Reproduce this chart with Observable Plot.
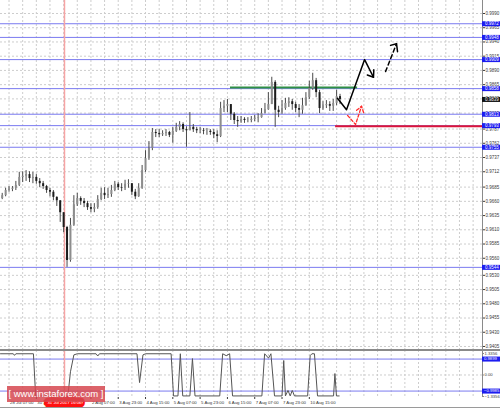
<!DOCTYPE html>
<html><head><meta charset="utf-8">
<script src="https://cdn.jsdelivr.net/npm/d3@7"></script>
<script src="https://cdn.jsdelivr.net/npm/@observablehq/plot@0.6"></script>
<style>
body{margin:0;background:#fff;}
#wrap{position:relative;width:500px;height:408px;overflow:hidden;background:#fff;font-family:"Liberation Sans",Arial,sans-serif;}
#main{position:absolute;left:0;top:0;}
#ind{position:absolute;left:0;top:350px;}
#sep{position:absolute;left:0;top:348.5px;width:500px;height:2px;background:#8a8a8a;}
#bot{position:absolute;left:0;top:406.5px;width:500px;height:1px;background:#9a9a9a;}
#wm{position:absolute;left:7px;top:386px;width:98px;height:16px;background:rgba(214,72,80,0.85);color:#fff;font-size:9.5px;line-height:16px;text-align:center;white-space:nowrap;}
</style></head><body>
<div id="wrap"><div id="main"></div><div id="ind"></div><div id="sep"></div><div id="bot"></div><div id="wm">[ www.instaforex.com ]</div></div>
<script>
// ---- candle data (hourly chart, one candle per 2 hours) ----
const firstOpen = 0.9665;
const closes = [0.9670,0.9679,0.9681,0.9683,0.9688,0.9702,0.9704,0.9707,0.9700,0.9702,
0.9695,0.9691,0.9686,0.9679,0.9676,0.9667,0.9661,0.9640,0.9614,0.9556,
0.9618,0.9654,0.9665,0.9660,0.9656,0.9649,0.9646,0.9649,0.9663,0.9674,
0.9670,0.9672,0.9679,0.9690,0.9684,0.9683,0.9690,0.9691,0.9676,0.9668,
0.9683,0.9714,0.9735,0.9753,0.9781,0.9779,0.9777,0.9779,0.9781,0.9776,
0.9783,0.9790,0.9795,0.9786,0.9784,0.9790,0.9786,0.9784,0.9784,0.9783,
0.9783,0.9781,0.9777,0.9774,0.9823,0.9827,0.9830,0.9813,0.9802,0.9800,
0.9804,0.9802,0.9802,0.9804,0.9806,0.9807,0.9814,0.9821,0.9830,0.9869,
0.9820,0.9816,0.9823,0.9832,0.9835,0.9830,0.9823,0.9820,0.9828,0.9842,
0.9858,0.9872,0.9851,0.9823,0.9828,0.9830,0.9827,0.9832,0.9844,0.9839];
const highs = [0.9674,0.9683,0.9686,0.9686,0.9695,0.9711,0.9712,0.9714,0.9712,0.9711,
0.9707,0.9700,0.9695,0.9688,0.9683,0.9679,0.9668,0.9661,0.9640,0.9616,
0.9630,0.9670,0.9674,0.9668,0.9665,0.9660,0.9656,0.9656,0.9670,0.9683,
0.9684,0.9683,0.9688,0.9695,0.9693,0.9691,0.9697,0.9698,0.9691,0.9681,
0.9691,0.9723,0.9749,0.9765,0.9788,0.9786,0.9786,0.9784,0.9786,0.9783,
0.9790,0.9797,0.9800,0.9798,0.9791,0.9816,0.9795,0.9790,0.9790,0.9788,
0.9788,0.9786,0.9786,0.9784,0.9834,0.9837,0.9839,0.9830,0.9816,0.9809,
0.9809,0.9807,0.9807,0.9809,0.9811,0.9814,0.9823,0.9832,0.9851,0.9878,
0.9872,0.9827,0.9837,0.9841,0.9842,0.9839,0.9834,0.9830,0.9841,0.9851,
0.9871,0.9885,0.9876,0.9855,0.9835,0.9837,0.9835,0.9839,0.9855,0.9848];
const lows = [0.9663,0.9668,0.9676,0.9677,0.9679,0.9686,0.9693,0.9695,0.9693,0.9691,
0.9690,0.9684,0.9681,0.9674,0.9668,0.9661,0.9651,0.9623,0.9605,0.9544,
0.9553,0.9616,0.9651,0.9653,0.9649,0.9644,0.9640,0.9640,0.9646,0.9661,
0.9663,0.9665,0.9667,0.9677,0.9679,0.9677,0.9679,0.9683,0.9670,0.9663,
0.9667,0.9681,0.9711,0.9732,0.9749,0.9772,0.9772,0.9774,0.9774,0.9772,
0.9762,0.9781,0.9784,0.9781,0.9755,0.9784,0.9781,0.9779,0.9779,0.9777,
0.9776,0.9776,0.9770,0.9763,0.9772,0.9816,0.9816,0.9802,0.9795,0.9790,
0.9797,0.9797,0.9798,0.9798,0.9800,0.9798,0.9806,0.9814,0.9820,0.9830,
0.9790,0.9807,0.9813,0.9820,0.9825,0.9820,0.9816,0.9807,0.9813,0.9827,
0.9839,0.9855,0.9842,0.9814,0.9820,0.9823,0.9818,0.9818,0.9828,0.9830];

// ---- indicator (lower panel) ----
const indHours  = [0,7.5,8.2,9,19.3,20.6,39.5,41,43,45,56,57,58,80,81.5,83.5,85,100,101.4,104,105.4,106.8,111,112.5,114,128.5,130.2,132.3,134.3,136,153.2,154.8,157.1,158.5,160.6,165,166,167,168.5,169.8,171,172.3,180,181.5,182.5,184,185.8,195.2,196,196.9,198.5];
const indValues = [1.32,1.32,1.22,1.32,1.32,-1.30,-1.30,0.2,1.25,1.32,1.32,1.18,1.32,1.32,-0.47,1.25,1.32,1.32,-1.30,-1.30,1.32,-1.30,-1.30,1.02,-1.30,-1.30,1.32,1.2,1.32,-1.30,-1.30,1.32,1.05,1.32,-1.30,-1.30,0.9,-1.30,-0.96,-1.30,-0.96,-1.30,-1.30,1.2,1.32,1.32,-1.30,-1.30,0.09,-1.30,-1.30];

// ---- axes / labels ----
const priceTicks = [0.9990,0.9965,0.9940,0.9915,0.9890,0.9865,0.9840,0.9815,0.9787,0.9762,0.9737,0.9712,0.9685,0.9660,0.9635,0.9610,0.9585,0.9560,0.9530,0.9505,0.9480,0.9455,0.9430,0.9405];
const levelValues = [0.9972,0.9948,0.9909,0.9858,0.9813,0.9793,0.9755,0.9544];
const currentPrice = 0.9839;
const indTicks = [1.3356, 0, -1.3356];
const indLevels = [0.9899, -0.9985];
const timeTickHours = [5,21,37,53,69,85,101,117,133,149,165,181];
const timeLabels = ["28 Jul 07:00","30 Jul 23:00","","2 Aug 07:00","3 Aug 23:00","4 Aug 15:00","5 Aug 07:00","5 Aug 23:00","6 Aug 15:00","7 Aug 07:00","7 Aug 23:00","10 Aug 15:00"];
const gridHours = [5,13,21,29,37,45,53,61,69,77,85,93,101,109,117,125,133,141,149,157,165,173,181,189,197,205,213,221,229,237,245,253,261,269,277];
const crossHour = 37.5;
const crossLabel = "31 Jul 2017 16:00";

// ---- drawn analysis lines ----
const greenLine = {from: 134.8, to: 209.3, value: 0.9860};
const redLine = {from: 196.4, value: 0.9792};
const solidHours = [197.5,202.8,213.4,218.6];
const solidValues = [0.9841,0.9821,0.9909,0.9878];
const solidHeadHours = [218.8,218.6,215.0];
const solidHeadValues = [0.9891,0.9878,0.9882];
const dashHours = [225.7,232.1];
const dashValues = [0.9888,0.9937];
const dashHeadHours = [228.6,232.1,232.7];
const dashHeadValues = [0.9934,0.9937,0.9923];
const redHours = [203.4,208.1,211.6];
const redValues = [0.9811,0.9795,0.9827];
const redHeadHours = [208.7,211.6,212.8];
const redHeadValues = [0.9820,0.9827,0.9816];

// ---- build tables ----
const X_END = 282.5;            // hours at the price-axis line
const X_FULL = X_END * 500 / 482;
const X_TICK = X_END * 484 / 482;
const candles = closes.map((c, i) => ({
  t: 1 + 2 * i,
  open: i === 0 ? firstOpen : closes[i - 1],
  close: c, high: highs[i], low: lows[i]
}));
const ind = indHours.map((h, i) => ({t: h, v: indValues[i]}));
const pts = (hs, vs) => hs.map((h, i) => ({t: h, v: vs[i]}));
const fmt4 = d3.format(".4f");
const BLUE = "#1c1cf0";
const LEVEL = "#7a7af0";
const GRID = "#cdcdcd";

const baseStyle = {fontFamily: "Liberation Sans, Arial, sans-serif", fontSize: "4.5px", color: "#3a3a3a", background: "transparent", overflow: "visible"};

const main = Plot.plot({
  width: 500, height: 350,
  marginLeft: 0, marginRight: 18, marginTop: 0, marginBottom: 0,
  style: baseStyle,
  x: {domain: [0, X_END], axis: null},
  y: {domain: [0.939794, 1.001284], axis: "right", ticks: priceTicks, tickFormat: fmt4, tickSize: 2, tickPadding: 1, label: null},
  marks: [
    Plot.ruleY(priceTicks, {stroke: GRID, strokeDasharray: "2,2"}),
    Plot.ruleX(gridHours, {stroke: GRID, strokeDasharray: "2,2"}),
    Plot.ruleY(levelValues, {stroke: LEVEL, strokeWidth: 1}),
    Plot.ruleX([crossHour], {stroke: "#f6a4a4", strokeWidth: 1.5}),
    Plot.ruleY([greenLine.value], {x1: greenLine.from, x2: greenLine.to, stroke: "#2f8f45", strokeWidth: 2}),
    Plot.ruleX(candles, {x: "t", y1: "low", y2: "high", stroke: "#4a4a4a", strokeWidth: 1}),
    Plot.ruleX(candles.filter(d => d.close >= d.open), {x: "t", y1: "open", y2: "close", stroke: "#8d8d8d", strokeWidth: 2}),
    Plot.ruleX(candles.filter(d => d.close < d.open), {x: "t", y1: "open", y2: "close", stroke: "#1c1c1c", strokeWidth: 2}),
    Plot.ruleY([redLine.value], {x1: redLine.from, x2: X_END, stroke: "#dc1438", strokeWidth: 2}),
    Plot.line(pts(solidHours, solidValues), {x: "t", y: "v", stroke: "#000", strokeWidth: 1.5}),
    Plot.line(pts(solidHeadHours, solidHeadValues), {x: "t", y: "v", stroke: "#000", strokeWidth: 1.5}),
    Plot.line(pts(dashHours, dashValues), {x: "t", y: "v", stroke: "#000", strokeWidth: 1.5, strokeDasharray: "4,3"}),
    Plot.line(pts(dashHeadHours, dashHeadValues), {x: "t", y: "v", stroke: "#000", strokeWidth: 1.5}),
    Plot.line(pts(redHours, redValues), {x: "t", y: "v", stroke: "#ff2b2b", strokeWidth: 1.3, strokeDasharray: "3,2"}),
    Plot.line(pts(redHeadHours, redHeadValues), {x: "t", y: "v", stroke: "#ff2b2b", strokeWidth: 1.3, strokeDasharray: "3,2"}),
    Plot.ruleX([X_END], {stroke: "#8a8a8a"}),
    // price-axis labels for the levels and the current price
    Plot.ruleY(levelValues, {x1: X_END, x2: X_FULL, stroke: BLUE, strokeWidth: 5}),
    Plot.text(levelValues, {x: X_END, y: d => d, text: d => fmt4(d), textAnchor: "start", dx: 2.5, fill: "#fff", fontSize: 4.5}),
    Plot.ruleY([currentPrice], {x1: X_END, x2: X_FULL, stroke: "#111", strokeWidth: 5}),
    Plot.text([currentPrice], {x: X_END, y: d => d, text: d => fmt4(d), textAnchor: "start", dx: 2.5, fill: "#fff", fontSize: 4.5})
  ]
});
document.getElementById("main").appendChild(main);

const lower = Plot.plot({
  width: 500, height: 58,
  marginLeft: 0, marginRight: 18, marginTop: 0, marginBottom: 11,
  style: baseStyle,
  x: {domain: [0, X_END], axis: "bottom", ticks: timeTickHours, tickFormat: () => "", tickSize: 2, label: null},
  y: {domain: [-1.398, 1.522], axis: null},
  marks: [
    Plot.ruleX(gridHours, {stroke: GRID, strokeDasharray: "2,2"}),
    Plot.ruleY([0], {stroke: GRID, strokeDasharray: "2,2"}),
    Plot.ruleY(indLevels, {stroke: LEVEL, strokeWidth: 1}),
    Plot.ruleX([crossHour], {stroke: "#f6a4a4", strokeWidth: 1.5}),
    Plot.line(ind, {x: "t", y: "v", stroke: "#555", strokeWidth: 1}),
    Plot.ruleX([X_END], {stroke: "#8a8a8a"}),
    Plot.ruleY(indTicks, {x1: X_END, x2: X_TICK, stroke: "#8a8a8a"}),
    Plot.text(indTicks, {x: X_END, y: d => d, text: d => d === 0 ? "0.00" : fmt4(d), textAnchor: "start", dx: 2, fill: "#3a3a3a", fontSize: 4.2}),
    Plot.ruleY(indLevels, {x1: X_END, x2: X_FULL, stroke: BLUE, strokeWidth: 5}),
    Plot.text(indLevels, {x: X_END, y: d => d, text: d => fmt4(d), textAnchor: "start", dx: 1.5, fill: "#fff", fontSize: 4.2}),
    Plot.text(timeTickHours.map((h, i) => ({t: h, label: timeLabels[i]})).filter(d => d.label), {x: "t", text: "label", frameAnchor: "bottom", dy: 6.5, dx: 1, textAnchor: "start", fill: "#333", fontSize: 4.3}),
    Plot.text([crossHour], {x: d => d, text: [crossLabel], frameAnchor: "bottom", dy: 6.5, fill: "#fff", stroke: "#ff1010", strokeWidth: 7, strokeLinejoin: "miter", fontSize: 4.3})
  ]
});
document.getElementById("ind").appendChild(lower);
</script>
</body></html>
